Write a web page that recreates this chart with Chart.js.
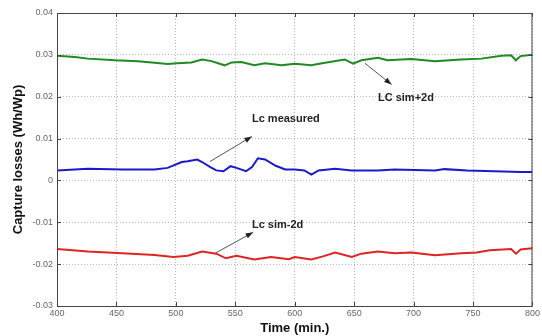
<!DOCTYPE html>
<html>
<head>
<meta charset="utf-8">
<script src="https://cdn.jsdelivr.net/npm/chart.js"></script>
<style>
  html, body { margin: 0; padding: 0; background: #fff; }
  #wrap { width: 542px; height: 336px; }
</style>
</head>
<body>
<div id="wrap"><canvas id="lossChart" width="542" height="336"></canvas></div>
<script>
// values (time in minutes, losses in Wh/Wp)
const simPlusTime = [400, 415, 426, 449, 468, 482, 493, 501, 513, 522, 530, 541, 547, 555, 566, 575, 589, 600, 614, 623, 642, 649, 656, 670, 678, 698, 718, 740, 757, 774, 782, 786, 790, 800];
const simPlusLoss = [0.0298, 0.0295, 0.0291, 0.0287, 0.0285, 0.0281, 0.0278, 0.028, 0.0282, 0.0289, 0.0285, 0.0275, 0.0282, 0.0283, 0.0275, 0.028, 0.0275, 0.0279, 0.0275, 0.028, 0.0289, 0.0279, 0.0287, 0.0293, 0.0287, 0.029, 0.0285, 0.0289, 0.0291, 0.0298, 0.0299, 0.0287, 0.0297, 0.03];

const measuredTime = [400, 426, 455, 482, 493, 505, 510, 518, 522, 529, 534, 540, 546, 551, 559, 564, 569, 575, 584, 592, 600, 608, 614, 620, 634, 648, 670, 684, 718, 726, 745, 768, 790, 800];
const measuredLoss = [0.0024, 0.0028, 0.0026, 0.0026, 0.003, 0.0044, 0.0046, 0.005, 0.0044, 0.0032, 0.0024, 0.0022, 0.0034, 0.003, 0.0022, 0.0032, 0.0053, 0.005, 0.0035, 0.0026, 0.0026, 0.0024, 0.0014, 0.0024, 0.0028, 0.0024, 0.0024, 0.0026, 0.0024, 0.0027, 0.0024, 0.0022, 0.002, 0.002];

const simMinusTime = [400, 426, 455, 482, 498, 510, 522, 534, 542, 551, 566, 580, 595, 600, 614, 623, 634, 648, 656, 670, 684, 698, 718, 740, 753, 764, 782, 786, 790, 800];
const simMinusLoss = [-0.0164, -0.017, -0.0174, -0.0178, -0.0183, -0.018, -0.017, -0.0175, -0.0186, -0.018, -0.0189, -0.0183, -0.0188, -0.0183, -0.0189, -0.0182, -0.0172, -0.0183, -0.0175, -0.017, -0.0174, -0.0172, -0.0179, -0.0174, -0.0172, -0.0167, -0.0164, -0.0175, -0.0165, -0.0162];

// annotation labels with arrows (data coordinates)
const noteText = ["LC sim+2d", "Lc measured", "Lc sim-2d"];
const noteTextPos = [[670, 0.0196], [564, 0.0146], [564, -0.0107]];
const noteArrowFrom = [[659, 0.028], [528.6, 0.0045], [533, -0.0174]];
const noteArrowTo = [[681.5, 0.0229], [564, 0.0105], [565, -0.0124]];

function toPoints(xs, ys) {
  return xs.map((x, i) => ({ x: x, y: ys[i] }));
}

// frame, inward ticks and the arrow notes
const extrasPlugin = {
  id: "extras",
  afterDatasetsDraw(chart) {
    const ctx = chart.ctx;
    const a = chart.chartArea;
    const xs = chart.scales.x;
    const ys = chart.scales.y;
    ctx.save();
    ctx.strokeStyle = "#444";
    ctx.lineWidth = 1;
    ctx.strokeRect(a.left + 0.5, a.top + 0.5, a.right - a.left - 1, a.bottom - a.top);

    // tick marks pointing inward, like the original
    ctx.beginPath();
    xs.ticks.forEach((t) => {
      const px = Math.round(xs.getPixelForValue(t.value)) + 0.5;
      ctx.moveTo(px, a.bottom); ctx.lineTo(px, a.bottom - 4);
      ctx.moveTo(px, a.top); ctx.lineTo(px, a.top + 4);
    });
    ys.ticks.forEach((t) => {
      const py = Math.round(ys.getPixelForValue(t.value)) + 0.5;
      ctx.moveTo(a.left, py); ctx.lineTo(a.left + 4, py);
      ctx.moveTo(a.right, py); ctx.lineTo(a.right - 4, py);
    });
    ctx.stroke();

    ctx.strokeStyle = "#555";
    ctx.fillStyle = "#222";
    for (let i = 0; i < noteText.length; i++) {
      const x1 = xs.getPixelForValue(noteArrowFrom[i][0]);
      const y1 = ys.getPixelForValue(noteArrowFrom[i][1]);
      const x2 = xs.getPixelForValue(noteArrowTo[i][0]);
      const y2 = ys.getPixelForValue(noteArrowTo[i][1]);
      ctx.beginPath();
      ctx.moveTo(x1, y1);
      ctx.lineTo(x2, y2);
      ctx.stroke();
      const ang = Math.atan2(y2 - y1, x2 - x1);
      const len = 8;
      ctx.beginPath();
      ctx.moveTo(x2, y2);
      ctx.lineTo(x2 - len * Math.cos(ang - 0.35), y2 - len * Math.sin(ang - 0.35));
      ctx.lineTo(x2 - len * Math.cos(ang + 0.35), y2 - len * Math.sin(ang + 0.35));
      ctx.closePath();
      ctx.fill();

      ctx.font = "bold 11px 'Liberation Sans', Arial, sans-serif";
      ctx.textAlign = "left";
      ctx.textBaseline = "middle";
      ctx.fillText(noteText[i], xs.getPixelForValue(noteTextPos[i][0]), ys.getPixelForValue(noteTextPos[i][1]));
    }
    ctx.restore();
  }
};

const lineStyle = { borderWidth: 2, pointRadius: 0, tension: 0, fill: false };

new Chart(document.getElementById("lossChart"), {
  type: "line",
  data: {
    datasets: [
      Object.assign({ label: "LC sim+2d", data: toPoints(simPlusTime, simPlusLoss), borderColor: "#1f8a22" }, lineStyle),
      Object.assign({ label: "Lc measured", data: toPoints(measuredTime, measuredLoss), borderColor: "#1a1acc" }, lineStyle),
      Object.assign({ label: "Lc sim-2d", data: toPoints(simMinusTime, simMinusLoss), borderColor: "#e02424" }, lineStyle)
    ]
  },
  options: {
    responsive: false,
    animation: false,
    layout: { padding: { top: 13, right: 9, left: 0, bottom: 0 } },
    plugins: {
      legend: { display: false },
      tooltip: { enabled: false }
    },
    scales: {
      x: {
        type: "linear",
        min: 400,
        max: 800,
        ticks: {
          stepSize: 50,
          color: "#666",
          font: { family: "'Liberation Sans', Arial, sans-serif", size: 9 },
          padding: 2,
          maxRotation: 0
        },
        grid: { color: "#b5b5b5", lineWidth: 1, drawTicks: false },
        border: { display: false, dash: [1, 2] },
        title: {
          display: true,
          text: "Time (min.)",
          color: "#111",
          font: { family: "'Liberation Sans', Arial, sans-serif", size: 13, weight: "bold" },
          padding: { top: 0, bottom: 0 }
        },
        afterFit(scale) { scale.height = 30; }
      },
      y: {
        min: -0.03,
        max: 0.04,
        ticks: {
          stepSize: 0.01,
          color: "#666",
          font: { family: "'Liberation Sans', Arial, sans-serif", size: 9 },
          padding: 4,
          callback: (v) => String(Math.round(v * 100) / 100)
        },
        grid: { color: "#b5b5b5", lineWidth: 1, drawTicks: false },
        border: { display: false, dash: [1, 2] },
        title: {
          display: true,
          text: "Capture losses (Wh/Wp)",
          color: "#111",
          font: { family: "'Liberation Sans', Arial, sans-serif", size: 13, weight: "bold" },
          padding: { top: 11, bottom: 0 }
        },
        afterFit(scale) { scale.width = 57; }
      }
    }
  },
  plugins: [extrasPlugin]
});
</script>
</body>
</html>
